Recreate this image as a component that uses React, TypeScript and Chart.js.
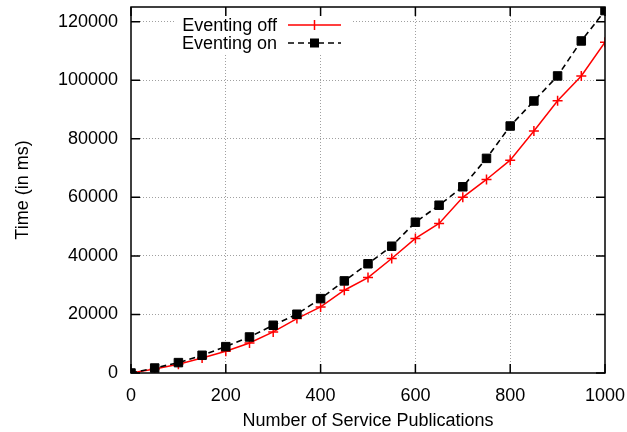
import React, { useEffect, useRef } from "react";
import { Chart, registerables } from "chart.js";

Chart.register(...registerables);

const publications = [0, 50, 100, 150, 200, 250, 300, 350, 400, 450, 500, 550, 600, 650, 700, 750, 800, 850, 900, 950, 1000];
const eventingOff = [0, 1400, 2970, 5130, 7420, 10260, 14020, 18600, 22570, 28270, 32600, 39100, 45950, 51070, 60000, 66100, 72700, 82630, 93000, 101450, 112950];
const eventingOn = [0, 1700, 3550, 6050, 9000, 12300, 16300, 20070, 25400, 31450, 37300, 43300, 51500, 57300, 63600, 73300, 84350, 92900, 101450, 113400, 123760];
const xTicks = [0, 200, 400, 600, 800, 1000];
const yTicks = [0, 20000, 40000, 60000, 80000, 100000, 120000];
const seriesLabels = ["Eventing off", "Eventing on"];
const xTitle = "Number of Service Publications";
const yTitle = "Time (in ms)";

const FONT = "'Liberation Sans', Arial, Helvetica, sans-serif";
const FS = 18;

const framePlugin = {
  id: "gnuFrame",
  beforeDatasetsDraw(chart: any) {
    const ctx = chart.ctx;
    ctx.save();
    ctx.fillStyle = "#ffffff";
    ctx.fillRect(175, 9, 176, 45);
    ctx.restore();
  },
  afterDraw(chart: any) {
    const ctx = chart.ctx;
    const { left, right, top, bottom } = chart.chartArea;
    const xs = chart.scales.x;
    const ys = chart.scales.y;
    ctx.save();
    ctx.strokeStyle = "#000";
    ctx.lineWidth = 1.5;
    ctx.setLineDash([]);
    ctx.strokeRect(left, top, right - left, bottom - top);
    const tl = 9;
    ctx.beginPath();
    xTicks.forEach((v) => {
      const x = xs.getPixelForValue(v);
      ctx.moveTo(x, bottom);
      ctx.lineTo(x, bottom - tl);
      ctx.moveTo(x, top);
      ctx.lineTo(x, top + tl);
    });
    yTicks.forEach((v) => {
      const y = ys.getPixelForValue(v);
      ctx.moveTo(left, y);
      ctx.lineTo(left + tl, y);
      ctx.moveTo(right, y);
      ctx.lineTo(right - tl, y);
    });
    ctx.stroke();

    // legend
    ctx.font = `${FS}px ${FONT}`;
    ctx.fillStyle = "#000";
    ctx.textAlign = "right";
    ctx.textBaseline = "middle";
    const rows = [25, 43];
    const tx = 277;
    const x1 = 288, x2 = 341, xm = 314.5;
    ctx.fillText(seriesLabels[0], tx, rows[0] + 1);
    ctx.fillText(seriesLabels[1], tx, rows[1] + 1);
    // red sample
    ctx.strokeStyle = "#ff0000";
    ctx.lineWidth = 1.5;
    ctx.beginPath();
    ctx.moveTo(x1, rows[0]);
    ctx.lineTo(x2, rows[0]);
    ctx.moveTo(xm, rows[0] - 5);
    ctx.lineTo(xm, rows[0] + 5);
    ctx.stroke();
    // black sample
    ctx.strokeStyle = "#000";
    ctx.setLineDash([6, 4]);
    ctx.beginPath();
    ctx.moveTo(x1, rows[1]);
    ctx.lineTo(x2, rows[1]);
    ctx.stroke();
    ctx.setLineDash([]);
    ctx.fillStyle = "#000";
    ctx.fillRect(xm - 4.5, rows[1] - 4.5, 9, 9);
    ctx.restore();
  },
};

export default function App() {
  const ref = useRef<HTMLCanvasElement | null>(null);
  useEffect(() => {
    if (!ref.current) return;
    const chart = new Chart(ref.current, {
      type: "line",
      data: {
        labels: publications,
        datasets: [
          {
            label: seriesLabels[1],
            data: publications.map((x, i) => ({ x, y: eventingOn[i] })),
            borderColor: "#000",
            backgroundColor: "#000",
            borderWidth: 1.6,
            borderDash: [6, 4],
            pointStyle: "rect",
            pointRadius: 6,
            pointBorderWidth: 1,
            pointBorderColor: "#000",
            pointBackgroundColor: "#000",
            tension: 0,
          },
          {
            label: seriesLabels[0],
            data: publications.map((x, i) => ({ x, y: eventingOff[i] })),
            borderColor: "#ff0000",
            backgroundColor: "#ff0000",
            borderWidth: 1.5,
            pointStyle: "cross",
            pointRadius: 5,
            pointBorderWidth: 1.5,
            pointBorderColor: "#ff0000",
            tension: 0,
          },
        ],
      },
      options: {
        animation: false,
        responsive: true,
        maintainAspectRatio: false,
        layout: { padding: { top: 7, right: 22, left: 0, bottom: 0 } },
        plugins: { legend: { display: false }, tooltip: { enabled: false } },
        scales: {
          x: {
            type: "linear",
            min: 0,
            max: 1000,
            afterBuildTicks: (s: any) => {
              s.ticks = xTicks.map((v) => ({ value: v }));
            },
            afterFit: (s: any) => {
              s.height = 59;
              s.paddingLeft = 0;
              s.paddingRight = 0;
              s.paddingTop = 0;
              s.paddingBottom = 0;
            },
            ticks: {
              padding: 12,
              color: "#000",
              font: { family: FONT, size: FS },
              maxRotation: 0,
              callback: (v: any) => String(v),
            },
            grid: {
              drawTicks: false,
              color: (c: any) => {
                const v = c.tick ? c.tick.value : 0;
                return v === 0 || v === 1000 ? "rgba(0,0,0,0)" : "#a0a0a0";
              },
              lineWidth: 1,
            },
            border: { display: false, dash: [1, 2] },
            title: {
              display: true,
              text: xTitle,
              color: "#000",
              font: { family: FONT, size: FS },
              padding: { top: 0, bottom: 0 },
            },
          },
          y: {
            type: "linear",
            min: 0,
            max: 125000,
            afterBuildTicks: (s: any) => {
              s.ticks = yTicks.map((v) => ({ value: v }));
            },
            afterFit: (s: any) => {
              s.width = 131;
              s.paddingLeft = 0;
              s.paddingRight = 0;
              s.paddingTop = 0;
              s.paddingBottom = 0;
            },
            ticks: {
              padding: 13,
              color: "#000",
              font: { family: FONT, size: FS },
              callback: (v: any) => String(v),
            },
            grid: {
              drawTicks: false,
              color: (c: any) => {
                const v = c.tick ? c.tick.value : 0;
                return v === 0 ? "rgba(0,0,0,0)" : "#a0a0a0";
              },
              lineWidth: 1,
            },
            border: { display: false, dash: [1, 2] },
            title: {
              display: true,
              text: yTitle,
              color: "#000",
              font: { family: FONT, size: FS },
              padding: { top: 12, bottom: 0 },
            },
          },
        },
      },
      plugins: [framePlugin],
    });
    return () => chart.destroy();
  }, []);
  return (
    <div style={{ position: "fixed", left: 0, top: 0, width: 627, height: 432, background: "#fff" }}>
      <canvas ref={ref} />
    </div>
  );
}
